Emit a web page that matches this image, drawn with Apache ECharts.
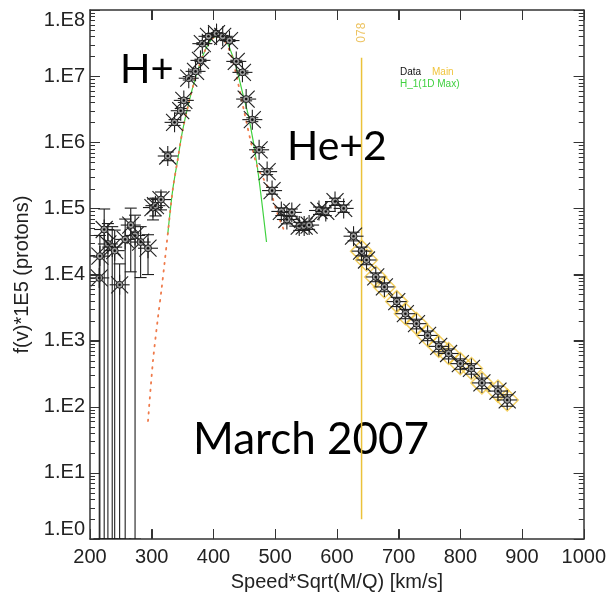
<!DOCTYPE html>
<html>
<head>
<meta charset="utf-8">
<script src="https://cdn.jsdelivr.net/npm/echarts@6/dist/echarts.min.js"></script>
<style>
  html, body { margin: 0; padding: 0; background: #fff; }
  #chart { width: 609px; height: 597px; }
</style>
</head>
<body>
<div id="chart"></div>
<script>
  // measured distribution (speed*sqrt(M/Q), flux, flux error)
  const speed = [215, 216, 223, 229, 236, 240, 248, 257, 266, 273, 282, 294, 302, 306, 315, 326, 337, 347, 352, 360,
    371, 379, 382, 392, 405, 415, 426, 437, 447, 453, 463, 474, 487, 495, 510, 519, 527, 539, 547, 555,
    571, 582, 597, 611, 627, 640, 648, 663, 677, 697, 711, 729, 747, 765, 781, 800, 818, 835, 861, 876];
  const flux = [8.9e3, 1.9e4, 4.8e4, 2.9e4, 2.6e4, 2.3e4, 7.0e3, 3.4e4, 5.6e4, 3.9e4, 3.1e4, 2.5e4, 1.03e5, 1.1e5, 1.36e5, 6.2e5, 2.0e6, 3.0e6, 4.3e6, 9.3e6,
    1.18e7, 1.73e7, 3.1e7, 4.0e7, 4.4e7, 4.0e7, 3.45e7, 1.67e7, 1.14e7, 4.5e6, 2.2e6, 7.7e5, 3.6e5, 1.86e5, 9.0e4, 6.8e4, 8.7e4, 5.4e4, 5.4e4, 5.6e4,
    9.3e4, 9.0e4, 1.27e5, 1.0e5, 3.8e4, 2.26e4, 1.66e4, 9.2e3, 6.5e3, 3.9e3, 2.56e3, 1.81e3, 1.2e3, 820, 640, 450, 380, 230, 173, 127];
  const fluxErr = [9.5e3, 2.0e4, 5.0e4, 3.0e4, 2.7e4, 2.4e4, 7.5e3, 3.5e4, 4.5e4, 4.0e4, 2.2e4, 1.5e4, 3.6e4, 3.3e4, 4.1e4, 9.3e4, 2.0e5, 2.4e5, 3.0e5, 5.6e5,
    6.0e5, 7.0e5, 1.0e6, 1.2e6, 1.3e6, 1.2e6, 1.1e6, 6.7e5, 5.7e5, 2.7e5, 1.5e5, 6.2e4, 3.6e4, 2.2e4, 1.2e4, 9.5e3, 1.1e4, 7.5e3, 7.5e3, 7.8e3,
    1.2e4, 1.2e4, 1.6e4, 1.3e4, 5.7e3, 3.4e3, 2.5e3, 1.4e3, 1.0e3, 620, 410, 300, 200, 140, 110, 80, 68, 42, 33, 25];

  // "Main" range starts here
  const mainFrom = 635;

  // H_1 (1D Max) fit, green
  const fitSpeed = [326, 334, 342, 350, 361, 373, 386, 398, 407, 418, 426, 437, 447, 458, 471, 486];
  const fitFlux = [4.1e4, 1.9e5, 5.4e5, 1.5e6, 4.3e6, 1.1e7, 2.4e7, 3.7e7, 4.0e7, 3.7e7, 2.7e7, 1.36e7, 5.7e6, 2.2e6, 4.3e5, 3.1e4];

  // total fit, orange dotted
  const totalSpeed = [294, 302, 310, 316, 321, 326, 334, 342, 350, 361, 373, 386, 398, 407, 418, 429, 439, 450, 461, 471, 482, 494, 503, 515];
  const totalFlux = [61, 490, 2.2e3, 6.1e3, 1.55e4, 4.1e4, 1.9e5, 5.4e5, 1.5e6, 4.3e6, 1.1e7, 2.4e7, 3.7e7, 3.9e7, 3.45e7, 2.05e7, 8.6e6, 2.86e6, 9.8e5, 4.3e5, 2.7e5, 1.62e5, 8.7e4, 4.5e4];

  // vertical marker line
  const cutSpeed = 640;
  const cutRange = [2, 1.9e7];
  const cutText = "078";

  // axes
  const xTicks = [200, 300, 400, 500, 600, 700, 800, 900, 1000];
  const yDecades = [1, 10, 100, 1e3, 1e4, 1e5, 1e6, 1e7, 1e8];
  const yLabels = ["1.E0", "1.E1", "1.E2", "1.E3", "1.E4", "1.E5", "1.E6", "1.E7", "1.E8"];
  const yMinor = [];
  for (let k = 0; k < yDecades.length - 1; k++) {
    for (let m = 2; m <= 9; m++) yMinor.push(m * yDecades[k]);
  }

  const chart = echarts.init(document.getElementById("chart"));

  const axisFont = { fontFamily: "Liberation Sans", fontSize: 20, color: "#222" };

  function yAxisBase(pos) {
    return {
      type: "log",
      logBase: 10,
      min: 1,
      max: 1e8,
      position: pos,
      splitLine: { show: false },
      axisTick: { show: true, inside: true, length: 10, lineStyle: { color: "#333", width: 1 } },
      axisLine: { show: true, lineStyle: { color: "#333", width: 1.5 } },
    };
  }

  const dataPoints = speed.map((s, i) => [s, flux[i], fluxErr[i]]);
  const mainPoints = speed.map((s, i) => [s, flux[i]]).filter((p) => p[0] >= mainFrom);

  // frame ticks (all four sides), placed through the axes' scales
  function frameTicks(cs, api) {
    const st = { stroke: "#333", lineWidth: 1 };
    const out = [];
    const b = cs.y + cs.height;
    const r = cs.x + cs.width;
    xTicks.forEach((v) => {
      const px = Math.round(api.coord([v, 1e4])[0]) + 0.5;
      out.push({ type: "line", shape: { x1: px, y1: b, x2: px, y2: b - 10 }, style: st });
      out.push({ type: "line", shape: { x1: px, y1: cs.y, x2: px, y2: cs.y + 10 }, style: st });
    });
    const yt = (v, len) => {
      const py = Math.round(api.coord([300, v])[1]) + 0.5;
      out.push({ type: "line", shape: { x1: cs.x, y1: py, x2: cs.x + len, y2: py }, style: st });
      out.push({ type: "line", shape: { x1: r, y1: py, x2: r - len, y2: py }, style: st });
    };
    yDecades.forEach((v) => yt(v, 10));
    yMinor.forEach((v) => yt(v, 5));
    return out;
  }

  function renderPoint(params, api) {
    const x = api.value(0);
    const y = api.value(1);
    const e = api.value(2);
    const cs = params.coordSys;
    const p = api.coord([x, y]);
    const top = api.coord([x, y + e])[1];
    const bot = y - e > 0 ? api.coord([x, y - e])[1] : cs.y + cs.height;
    const st = { stroke: "#1e1e1e", lineWidth: 1.1, fill: null };
    const arm = 10;
    const dg = 8.5;
    const cap = 6;
    const line = (x1, y1, x2, y2) => ({ type: "line", shape: { x1, y1, x2, y2 }, style: st });
    const children = [
      line(p[0], top, p[0], bot),
      line(p[0] - cap, top, p[0] + cap, top),
      line(p[0] - cap, bot, p[0] + cap, bot),
      line(p[0] - arm, p[1], p[0] + arm, p[1]),
      line(p[0], p[1] - arm, p[0], p[1] + arm),
      line(p[0] - dg, p[1] - dg, p[0] + dg, p[1] + dg),
      line(p[0] - dg, p[1] + dg, p[0] + dg, p[1] - dg),
      { type: "circle", shape: { cx: p[0], cy: p[1], r: 3.5 }, style: { fill: "#9a9a9a", stroke: "#222", lineWidth: 1 } },
      { type: "circle", shape: { cx: p[0], cy: p[1], r: 1.3 }, style: { fill: "#111" } },
    ];
    if (params.dataIndex === 0) children.push(...frameTicks(cs, api));
    return { type: "group", children };
  }

  const option = {
    animation: false,
    backgroundColor: "#fff",
    grid: { left: 90, right: 22, top: 10, bottom: 55 },
    xAxis: [
      {
        type: "value",
        min: 200,
        max: 1000,
        interval: 100,
        position: "bottom",
        name: "Speed*Sqrt(M/Q) [km/s]",
        nameLocation: "middle",
        nameGap: 32,
        nameTextStyle: { ...axisFont },
        axisLine: { show: true, lineStyle: { color: "#333", width: 1.5 } },
        axisTick: { show: true, inside: true, length: 10, lineStyle: { color: "#333", width: 1 } },
        axisLabel: { ...axisFont, margin: 8, formatter: (v) => String(v) },
        splitLine: { show: false },
      },
      {
        type: "value",
        min: 200,
        max: 1000,
        interval: 100,
        position: "top",
        axisLine: { show: true, lineStyle: { color: "#333", width: 1.5 } },
        axisTick: { show: true, inside: true, length: 10, lineStyle: { color: "#333", width: 1 } },
        axisLabel: { show: false },
        splitLine: { show: false },
      },
    ],
    yAxis: [
      {
        ...yAxisBase("left"),
        name: "f(v)*1E5 (protons)",
        nameLocation: "middle",
        nameGap: 50,
        nameTextStyle: { ...axisFont },
        axisLabel: {
          ...axisFont,
          margin: 5,
          verticalAlignMinLabel: "bottom",
          verticalAlignMaxLabel: "top",
          formatter: (v) => yLabels[Math.round(Math.log10(v))],
        },
      },
      {
        ...yAxisBase("right"),
        axisLabel: { show: false },
      },
    ],
    series: [
      {
        // total fit
        type: "line",
        data: totalSpeed.map((s, i) => [s, totalFlux[i]]),
        symbol: "none",
        smooth: 0.3,
        lineStyle: { color: "#ef7a4a", width: 1.8, type: [1.5, 6], cap: "round" },
        z: 4,
      },
      {
        // H_1 fit
        type: "line",
        data: fitSpeed.map((s, i) => [s, fitFlux[i]]),
        symbol: "none",
        smooth: 0.3,
        lineStyle: { color: "#3fd13f", width: 1.2 },
        z: 3,
      },
      {
        // main range marks
        type: "scatter",
        data: mainPoints,
        symbol: "diamond",
        symbolSize: 22,
        itemStyle: { color: "rgba(0,0,0,0)", borderColor: "#f0c43c", borderWidth: 1.5 },
        z: 2,
      },
      {
        type: "custom",
        data: dataPoints,
        renderItem: renderPoint,
        clip: true,
        z: 5,
      },
      {
        // vertical cut line
        type: "line",
        data: cutRange.map((v) => [cutSpeed, v]),
        symbol: "none",
        lineStyle: { color: "#ebc23a", width: 1.5 },
        z: 1,
      },
      {
        type: "scatter",
        data: [[cutSpeed, cutRange[1]]],
        symbolSize: 0,
        label: {
          show: true,
          formatter: cutText,
          position: "top",
          distance: 15,
          rotate: 90,
          align: "left",
          verticalAlign: "middle",
          color: "#e8b43a",
          fontFamily: "Liberation Sans",
          fontSize: 12,
        },
        z: 1,
      },
    ],
    graphic: [
      { type: "text", left: 400, top: 67, style: { text: "Data", fill: "#111", font: "10px 'Liberation Sans'" } },
      { type: "text", left: 432, top: 67, style: { text: "Main", fill: "#f0c43c", font: "10px 'Liberation Sans'" } },
      { type: "text", left: 400, top: 79, style: { text: "H_1(1D Max)", fill: "#3fd13f", font: "10px 'Liberation Sans'" } },
      { type: "text", x: 120, y: 70, style: { text: "H+", fill: "#000", font: "40px Lato", verticalAlign: "middle" } },
      { type: "text", x: 287, y: 147, style: { text: "He+2", fill: "#000", font: "41px Lato", verticalAlign: "middle" } },
      { type: "text", x: 193, y: 440, style: { text: "March 2007", fill: "#000", font: "44px Lato", verticalAlign: "middle" } },
    ],
  };

  chart.setOption(option);
</script>
</body>
</html>
